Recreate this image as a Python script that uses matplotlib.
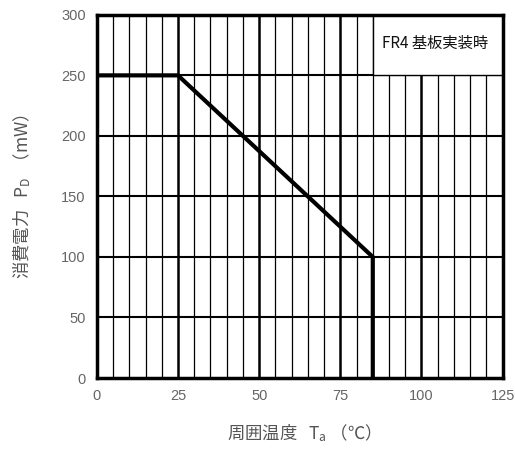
import matplotlib
matplotlib.use('Agg')
import matplotlib.pyplot as plt
from matplotlib.patches import Rectangle

plt.rcParams['font.family'] = ['Liberation Sans', 'Noto Sans CJK JP', 'DejaVu Sans']
plt.rcParams['mathtext.fontset'] = 'custom'
plt.rcParams['mathtext.rm'] = 'Liberation Sans'
plt.rcParams['mathtext.it'] = 'Liberation Sans'

# derating curve
temp = [0, 25, 85, 85]
power = [250, 250, 100, 0]
x_ticks = [0, 25, 50, 75, 100, 125]
y_ticks = [0, 50, 100, 150, 200, 250, 300]
note = 'FR4 基板実装時'

fig = plt.figure(figsize=(5.15, 4.5), dpi=100)
ax = fig.add_axes([0.188, 0.16, 0.788, 0.807])

# grid
for x in range(5, 125, 5):
    lw = 1.8 if x % 25 == 0 else 0.9
    ax.axvline(x, color='black', lw=lw, zorder=1)
for y in y_ticks[1:-1]:
    ax.axhline(y, color='black', lw=1.5, zorder=1)

# note box in the upper right
ax.add_patch(Rectangle((85, 250), 40, 50, facecolor='white',
                       edgecolor='black', lw=1.0, zorder=2))
ax.text(104.2, 276, note, ha='center', va='center', fontsize=11, color='#111',
        family='Noto Sans CJK JP', zorder=3)

ax.plot(temp, power, color='black', lw=3, solid_joinstyle='miter', zorder=4)

ax.set_xlim(0, 125)
ax.set_ylim(0, 300)
ax.set_xticks(x_ticks)
ax.set_yticks(y_ticks)
ax.tick_params(length=0, pad=8, labelsize=10.5, labelcolor='#666')
for s in ax.spines.values():
    s.set_linewidth(2.5)
    s.set_zorder(5)

ax.set_xlabel('周囲温度   T$_\\mathregular{a}$ （℃）', fontsize=12.5, color='#555',
              family='Noto Sans CJK JP', labelpad=14)
ax.set_ylabel('消費電力   P$_\\mathregular{D}$  （mW）', fontsize=12.5, color='#555',
              family='Noto Sans CJK JP', labelpad=20)

fig.savefig('out.png', dpi=100)
